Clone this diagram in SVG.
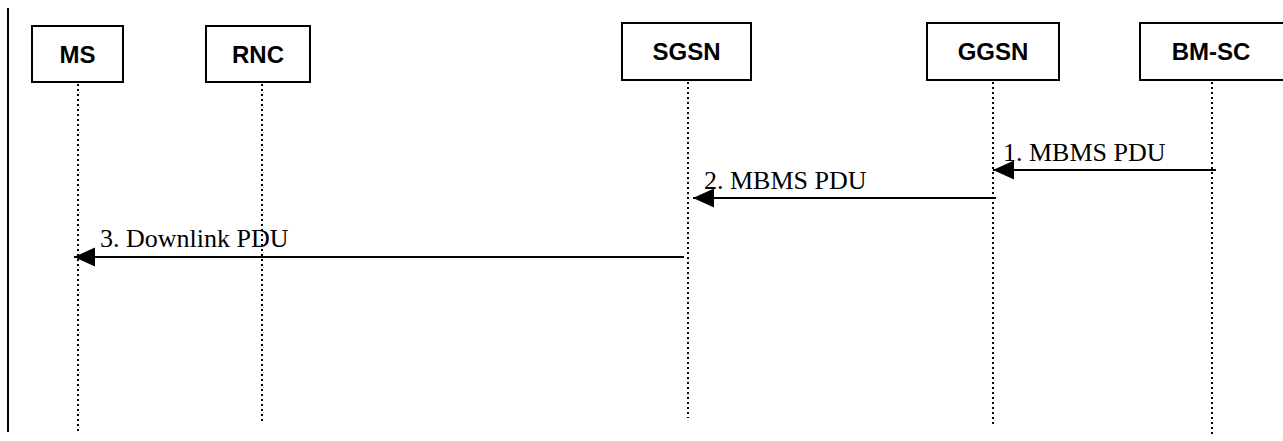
<svg xmlns="http://www.w3.org/2000/svg" width="1283" height="441" viewBox="0 0 1283 441">
<style>
.box{fill:#fff;stroke:#000;stroke-width:2}
.name{font-family:"Liberation Sans",Arial,sans-serif;font-weight:bold;font-size:24px;text-anchor:middle;fill:#000}
.life{stroke:#000;stroke-width:2;stroke-dasharray:2 3;fill:none}
.msg{stroke:#000;stroke-width:2;fill:none}
.lbl{font-family:"Liberation Serif","Times New Roman",serif;font-size:26px;fill:#000}
</style>
<defs>
<marker id="ah" markerUnits="userSpaceOnUse" markerWidth="22" markerHeight="20" refX="21" refY="9.5" orient="auto">
<path d="M0,0 L21,9.5 L0,19 Z" fill="#000"/>
</marker>
</defs>
<line x1="8" y1="8" x2="8" y2="432" stroke="#000" stroke-width="2"/>
<g id="MS">
<rect class="box" x="32" y="26" width="91" height="56"/>
<text class="name" x="77.5" y="63">MS</text>
<line class="life" x1="78" y1="84" x2="78" y2="432"/>
</g>
<g id="RNC">
<rect class="box" x="206" y="26" width="104" height="56"/>
<text class="name" x="258" y="63">RNC</text>
<line class="life" x1="262" y1="84" x2="262" y2="424"/>
</g>
<g id="SGSN">
<rect class="box" x="622" y="23" width="129" height="57"/>
<text class="name" x="686.5" y="60">SGSN</text>
<line class="life" x1="688" y1="82" x2="688" y2="418"/>
</g>
<g id="GGSN">
<rect class="box" x="927" y="23" width="132" height="57"/>
<text class="name" x="993" y="60">GGSN</text>
<line class="life" x1="993" y1="82" x2="993" y2="427"/>
</g>
<g id="BM-SC">
<rect class="box" x="1140" y="23" width="150" height="57"/>
<text class="name" x="1211" y="60">BM-SC</text>
<line class="life" x1="1212" y1="82" x2="1212" y2="437"/>
</g>
<g id="connectors">
<line class="msg" x1="1216" y1="170" x2="993" y2="170" marker-end="url(#ah)"/>
<text class="lbl" x="1003" y="161">1. MBMS PDU</text>
<line class="msg" x1="996" y1="198" x2="693" y2="198" marker-end="url(#ah)"/>
<text class="lbl" x="704" y="189">2. MBMS PDU</text>
<line class="msg" x1="684" y1="257" x2="74" y2="257" marker-end="url(#ah)"/>
<text class="lbl" x="100" y="247">3. Downlink PDU</text>
</g>
</svg>
